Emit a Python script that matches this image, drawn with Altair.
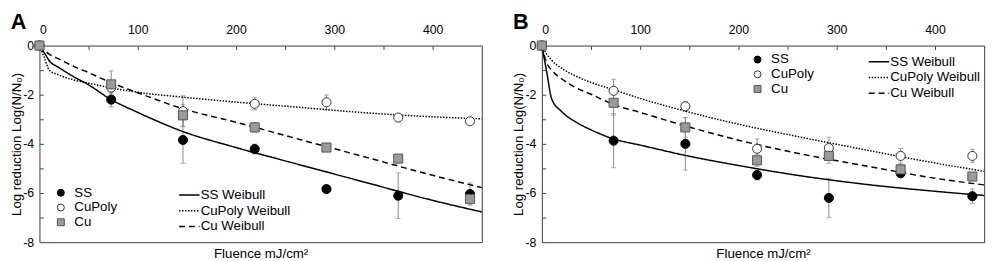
import altair as alt
import pandas as pd

FONT = "Liberation Sans"

# ---------------- data ----------------
fluence = [0, 73, 146, 219, 292, 365, 438]
series_names = ["SS", "CuPoly", "Cu"]
fit_names = ["SS Weibull", "CuPoly Weibull", "Cu Weibull"]

# Panel A measured points and error half-widths
a_ss = [0, -2.2, -3.84, -4.21, -5.84, -6.11, -6.04]
a_ss_err = [0, 0.3, 0.95, 0.2, 0.1, 0.93, 0.45]
a_cupoly = [0, -1.71, -2.67, -2.37, -2.31, -2.93, -3.08]
a_cupoly_err = [0, 0.25, 0.63, 0.25, 0.3, 0.1, 0.1]
a_cu = [0, -1.58, -2.84, -3.33, -4.15, -4.6, -6.24]
a_cu_err = [0, 0.55, 0.45, 0.2, 0.1, 0.1, 0.25]

# Panel B measured points and error half-widths
b_ss = [0, -3.87, -4.0, -5.27, -6.2, -5.2, -6.13]
b_ss_err = [0, 1.1, 1.07, 0.2, 0.8, 0.15, 0.3]
b_cupoly = [0, -1.84, -2.47, -4.2, -4.17, -4.49, -4.49]
b_cupoly_err = [0, 0.47, 0.2, 0.4, 0.44, 0.3, 0.27]
b_cu = [0, -2.33, -3.33, -4.67, -4.49, -5.04, -5.33]
b_cu_err = [0, 0.5, 0.4, 0.25, 0.3, 0.2, 0.15]

# Weibull curves
fit_x = [0, 5, 10, 20, 35, 50, 73, 100, 146, 200, 260, 330, 400, 450]
a_ss_fit = [0, -0.3, -0.62, -0.9, -1.27, -1.6, -2.2, -2.72, -3.5, -4.15, -4.8, -5.55, -6.3, -6.77]
a_cupoly_fit = [0, -0.5, -1.0, -1.2, -1.4, -1.53, -1.72, -1.9, -2.1, -2.3, -2.5, -2.73, -2.9, -2.98]
a_cu_fit = [0, -0.2, -0.35, -0.55, -0.85, -1.1, -1.51, -1.92, -2.57, -3.12, -3.77, -4.52, -5.28, -5.78]
b_ss_fit = [0, -1.08, -2.17, -2.68, -3.12, -3.43, -3.8, -4.05, -4.47, -4.88, -5.28, -5.65, -5.93, -6.1]
b_cupoly_fit = [0, -0.35, -0.6, -0.92, -1.25, -1.5, -1.8, -2.15, -2.67, -3.2, -3.7, -4.25, -4.78, -5.12]
b_cu_fit = [0, -0.7, -1.0, -1.35, -1.72, -1.98, -2.4, -2.72, -3.27, -3.85, -4.38, -4.9, -5.4, -5.67]

x_label_values = [0, 100, 200, 300, 400]
x_tick_values = [50, 100, 150, 200, 250, 300, 350, 400]
y_label_values = [0, -2, -4, -6, -8]
y_tick_values = [-1, -2, -3, -4, -5, -6, -7]


def points_frame(vals_list, errs_list):
    rows = []
    for name, vals, errs in zip(series_names, vals_list, errs_list):
        for x, v, e in zip(fluence, vals, errs):
            rows.append({"x": x, "y": v, "lo": v - e, "hi": v + e, "e": e, "series": name})
    return pd.DataFrame(rows)


def fits_frame(fit_list):
    rows = []
    for name, vals in zip(fit_names, fit_list):
        for x, v in zip(fit_x, vals):
            rows.append({"x": x, "y": v, "fit": name})
    return pd.DataFrame(rows)


xs = alt.Scale(domain=[0, 450], nice=False, zero=False)
ys = alt.Scale(domain=[-8, 0], nice=False, zero=False)
ERR = "#8c8c8c"


def panel(pts, fits, letter, mk_xy, ln_xy):
    err = pts[pts["e"] > 0]
    rules = alt.Chart(err).mark_rule(color=ERR, strokeWidth=1).encode(
        x=alt.X("x:Q", scale=xs, axis=alt.Axis(
            orient="top", values=x_label_values, ticks=False, domain=False, grid=False,
            labelFontSize=12.5, labelPadding=9, labelExpr="'' + datum.value",
            title="Fluence mJ/cm²", titleFontSize=13.5, titleFontWeight="normal",
            titleY=215.5, titleBaseline="alphabetic")),
        y=alt.Y("lo:Q", scale=ys, axis=alt.Axis(
            orient="left", values=y_label_values, ticks=False, domain=False, grid=False,
            labelFontSize=12.5, labelPadding=6, labelExpr="'' + datum.value",
            title="Log reduction Log(N/N₀)", titleFontSize=13.5, titleFontWeight="normal",
            titlePadding=-0.5)),
        y2="hi:Q",
    )
    caps = alt.Chart(err).transform_fold(["lo", "hi"], as_=["k", "v"]).mark_tick(
        color=ERR, orient="horizontal", size=5, thickness=1).encode(
        x=alt.X("x:Q", scale=xs, axis=None),
        y=alt.Y("v:Q", scale=ys, axis=None),
    )
    leg_ln = alt.Legend(orient="none", legendX=ln_xy[0], legendY=ln_xy[1], title=None,
                        labelFontSize=13.5, labelFont=FONT, labelColor="black",
                        symbolType="M-1.3,0L1.3,0", symbolSize=256, symbolStrokeWidth=1.5,
                        symbolStrokeColor="black", symbolFillColor="transparent",
                        labelOffset=2.5, rowPadding=0, padding=0)
    lines = alt.Chart(fits).mark_line(color="black", strokeWidth=1.5, interpolate="monotone").encode(
        x=alt.X("x:Q", scale=xs, axis=None),
        y=alt.Y("y:Q", scale=ys, axis=None),
        strokeDash=alt.StrokeDash("fit:N", scale=alt.Scale(
            domain=fit_names, range=[[1, 0], [1.5, 1.5], [6, 4]]), legend=leg_ln),
    )
    leg_pt = alt.Legend(orient="none", legendX=mk_xy[0], legendY=mk_xy[1], title=None,
                        labelFontSize=13.5, labelFont=FONT, labelColor="black",
                        symbolSize=50, symbolStrokeWidth=1, labelOffset=7,
                        rowPadding=0, padding=0)
    points = alt.Chart(pts).mark_point(size=85, opacity=1, fillOpacity=1, strokeWidth=1).encode(
        x=alt.X("x:Q", scale=xs, axis=alt.Axis(
            orient="bottom", offset=-200, values=x_tick_values, labels=False, ticks=True,
            tickSize=4, tickColor="#444", domain=False, grid=False, title=None)),
        y=alt.Y("y:Q", scale=ys, axis=alt.Axis(
            orient="right", offset=-450, values=y_tick_values, labels=False, ticks=True,
            tickSize=4, tickColor="#444", domain=False, grid=False, title=None)),
        shape=alt.Shape("series:N", scale=alt.Scale(domain=series_names,
                        range=["circle", "circle", "square"]), legend=leg_pt),
        fill=alt.Fill("series:N", scale=alt.Scale(domain=series_names,
                      range=["#000000", "#ffffff", "#9a9a9a"]), legend=leg_pt),
        stroke=alt.Stroke("series:N", scale=alt.Scale(domain=series_names,
                          range=["#000000", "#333333", "#555555"]), legend=leg_pt),
    )
    lab = alt.Chart(pd.DataFrame({"t": [letter]})).mark_text(
        align="left", baseline="top", fontSize=22, fontWeight="bold", font=FONT, color="black"
    ).encode(text="t:N", x=alt.value(-29.3), y=alt.value(-34))
    return alt.layer(rules, caps, lines, points, lab).resolve_axis(
        x="independent", y="independent").properties(width=450, height=200)


pa = panel(points_frame([a_ss, a_cupoly, a_cu], [a_ss_err, a_cupoly_err, a_cu_err]),
           fits_frame([a_ss_fit, a_cupoly_fit, a_cu_fit]), "A", (15, 143), (143.5, 143))
pb = panel(points_frame([b_ss, b_cupoly, b_cu], [b_ss_err, b_cupoly_err, b_cu_err]),
           fits_frame([b_ss_fit, b_cupoly_fit, b_cu_fit]), "B", (212.7, 7.5), (334, 7.5))

chart = alt.hconcat(pa, pb, spacing=25.1).resolve_scale(
    shape="independent", fill="independent", stroke="independent", strokeDash="independent"
).resolve_legend(
    shape="independent", fill="independent", stroke="independent", strokeDash="independent"
).properties(padding={"left": 0, "top": 0, "right": 0, "bottom": 0}).configure_view(
    stroke="#3a3a3a", strokeWidth=1
).configure_axis(
    labelFont=FONT, titleFont=FONT, labelColor="black", titleColor="black"
).configure_legend(labelFont=FONT)

chart.save("out.html", embed_options={"renderer": "svg", "actions": False})
